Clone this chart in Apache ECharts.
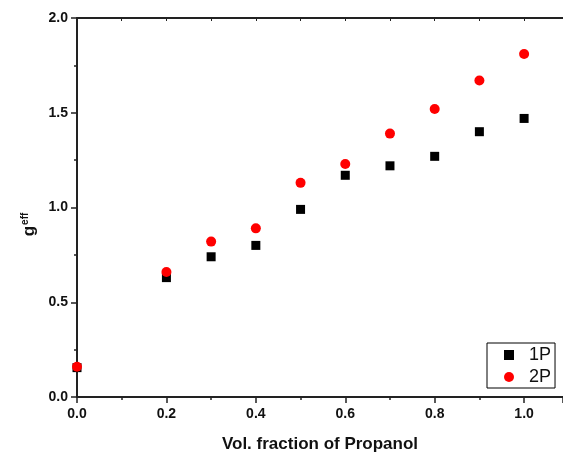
<!DOCTYPE html>
<html><head><meta charset="utf-8">
<script src="https://cdn.jsdelivr.net/npm/echarts@6/dist/echarts.min.js"></script>
<style>html,body{margin:0;padding:0;background:#fff}#c{width:563px;height:453px}</style>
</head><body><div id="c"></div>
<script>
var xValues = [0.0, 0.2, 0.3, 0.4, 0.5, 0.6, 0.7, 0.8, 0.9, 1.0];
var series1P = [0.155, 0.63, 0.74, 0.80, 0.99, 1.17, 1.22, 1.27, 1.40, 1.47];
var series2P = [0.16, 0.66, 0.82, 0.89, 1.13, 1.23, 1.39, 1.52, 1.67, 1.81];
var seriesNames = ['1P', '2P'];
var xTitle = 'Vol. fraction of Propanol';

function pairs(ys){ return xValues.map(function(x,i){ return [x, ys[i]]; }); }
var fam = '"Liberation Sans", Arial, sans-serif';
var axisColor = '#222';
var chart = echarts.init(document.getElementById('c'));
chart.setOption({
  animation: false,
  grid: { left: 77, right: 0, top: 18, bottom: 56, outerBoundsMode: 'none', containLabel: false },
  xAxis: [{
    type: 'value', min: 0, max: 1.087, interval: 0.2, position: 'bottom',
    name: xTitle, nameLocation: 'middle', nameGap: 39,
    nameTextStyle: { fontFamily: fam, fontWeight: 'bold', fontSize: 17, color: '#111' },
    axisLine: { show: true, lineStyle: { color: axisColor, width: 2 } },
    axisTick: { show: true, inside: false, length: 6, lineStyle: { color: axisColor, width: 1.5 } },
    minorTick: { show: true, splitNumber: 2, length: 3, lineStyle: { color: axisColor, width: 1.5 } },
    axisLabel: { fontFamily: fam, fontWeight: 'bold', fontSize: 14, color: '#111', margin: 10,
      formatter: function(v){ var r = Math.round(v*10)/10; return Math.abs(v - r) < 1e-6 && Math.abs(r*5 - Math.round(r*5)) < 1e-6 ? v.toFixed(1) : ''; } },
    splitLine: { show: false }
  }, {
    type: 'value', min: 0, max: 1.087, interval: 0.1, position: 'top',
    axisLine: { show: true, lineStyle: { color: axisColor, width: 2 } },
    axisTick: { show: true, inside: true, length: 3, lineStyle: { color: axisColor, width: 1 } },
    axisLabel: { show: false }, splitLine: { show: false }
  }],
  yAxis: {
    type: 'value', min: 0, max: 2.0, interval: 0.5,
    name: '{g|g}{s|eff}', nameLocation: 'middle', nameGap: 33, nameRotate: 90,
    nameTextStyle: { padding: [0, 34, 0, 0], rich: {
      g: { fontFamily: fam, fontWeight: 'bold', fontSize: 17, color: '#111' },
      s: { fontFamily: fam, fontWeight: 'bold', fontSize: 10, color: '#111', verticalAlign: 'top', padding: [0,0,5,1] }
    } },
    axisLine: { show: true, lineStyle: { color: axisColor, width: 2 } },
    axisTick: { show: true, inside: false, length: 6, lineStyle: { color: axisColor, width: 1.5 } },
    minorTick: { show: true, splitNumber: 2, length: 3, lineStyle: { color: axisColor, width: 1.5 } },
    axisLabel: { fontFamily: fam, fontWeight: 'bold', fontSize: 14, color: '#111', margin: 9,
      formatter: function(v){ return v.toFixed(1); } },
    splitLine: { show: false }
  },
  legend: {
    orient: 'vertical', left: 487, top: 343,
    padding: [3, 4, 2, 17], itemGap: 4, itemWidth: 10, itemHeight: 10,
    borderColor: '#000', borderWidth: 1, backgroundColor: '#fff',
    textStyle: { fontFamily: fam, fontSize: 18, color: '#111', padding: [0,0,0,10] },
    data: [{ name: seriesNames[0], icon: 'rect', itemStyle: { opacity: 1 } }, { name: seriesNames[1], icon: 'circle', itemStyle: { opacity: 1 } }]
  },
  series: [{
    name: seriesNames[0], type: 'scatter', symbol: 'rect', symbolSize: 9,
    itemStyle: { color: '#000', opacity: 1 }, data: pairs(series1P)
  }, {
    name: seriesNames[1], type: 'scatter', symbol: 'circle', symbolSize: 10,
    itemStyle: { color: '#ff0000', opacity: 1 }, data: pairs(series2P)
  }]
});
</script></body></html>
